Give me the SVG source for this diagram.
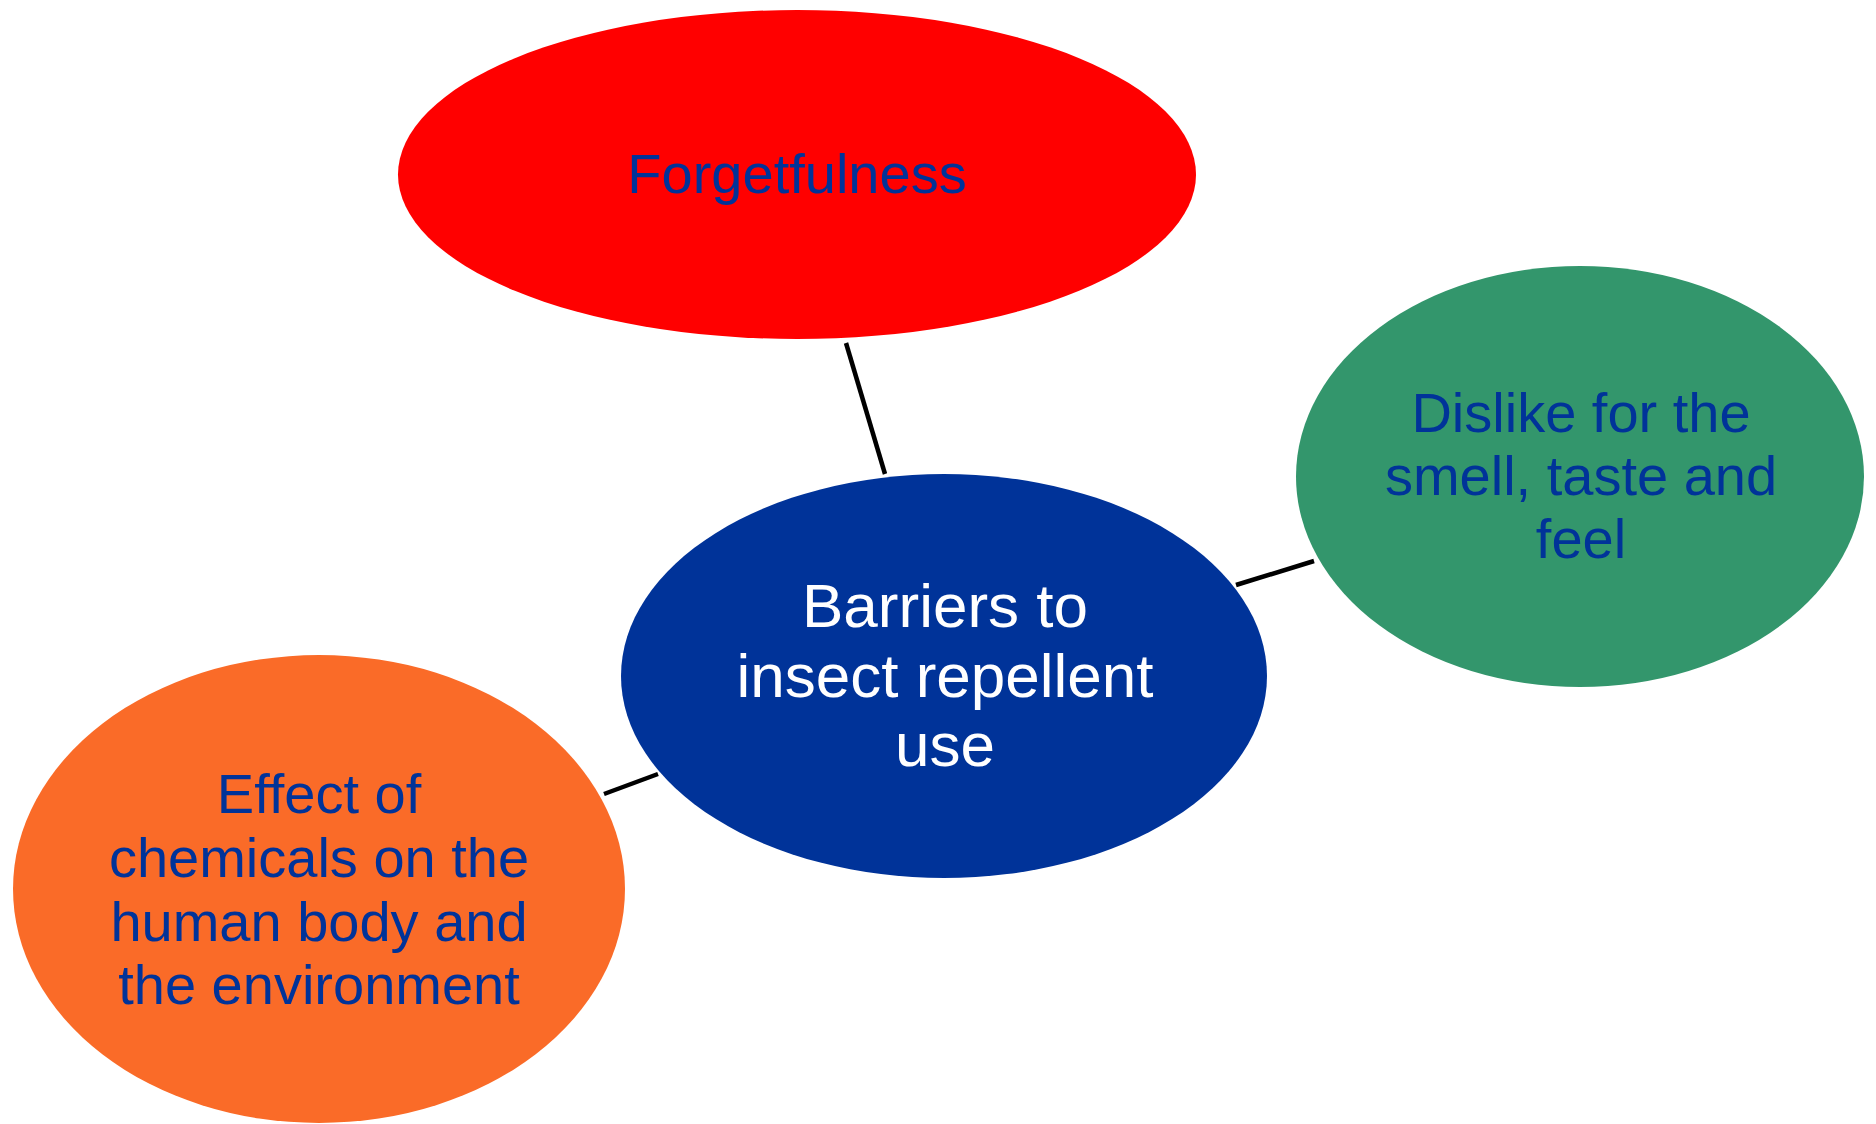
<svg xmlns="http://www.w3.org/2000/svg" width="1876" height="1124" viewBox="0 0 1876 1124">
<style>
.lbl{font-family:"Liberation Sans",Arial,sans-serif;text-anchor:middle;fill:#003399;font-size:56px}
.ctr{fill:#ffffff;font-size:62px}
.con{stroke:#000000;stroke-width:4.5;fill:none}
</style>
<rect width="1876" height="1124" fill="#ffffff"/>
<g id="connectors">
<line class="con" x1="846" y1="343" x2="885" y2="474"/>
<line class="con" x1="1236" y1="585" x2="1314" y2="561"/>
<line class="con" x1="604" y1="794" x2="658" y2="774"/>
</g>
<g id="node-forgetfulness">
<ellipse cx="797" cy="174.5" rx="399" ry="164.5" fill="#ff0000"/>
<text class="lbl" x="797" y="193">Forgetfulness</text>
</g>
<g id="node-barriers">
<ellipse cx="944" cy="676" rx="323" ry="202" fill="#003399"/>
<text class="lbl ctr" x="945" y="627">Barriers to</text>
<text class="lbl ctr" x="945" y="697">insect repellent</text>
<text class="lbl ctr" x="945" y="766">use</text>
</g>
<g id="node-dislike">
<ellipse cx="1580" cy="476.5" rx="284" ry="210.5" fill="#33966c"/>
<text class="lbl" x="1581" y="432">Dislike for the</text>
<text class="lbl" x="1581" y="495">smell, taste and</text>
<text class="lbl" x="1581" y="558">feel</text>
</g>
<g id="node-effect">
<ellipse cx="319" cy="889" rx="306" ry="234" fill="#fa6b28"/>
<text class="lbl" x="319" y="813">Effect of</text>
<text class="lbl" x="319" y="877">chemicals on the</text>
<text class="lbl" x="319" y="941">human body and</text>
<text class="lbl" x="319" y="1004">the environment</text>
</g>
</svg>
